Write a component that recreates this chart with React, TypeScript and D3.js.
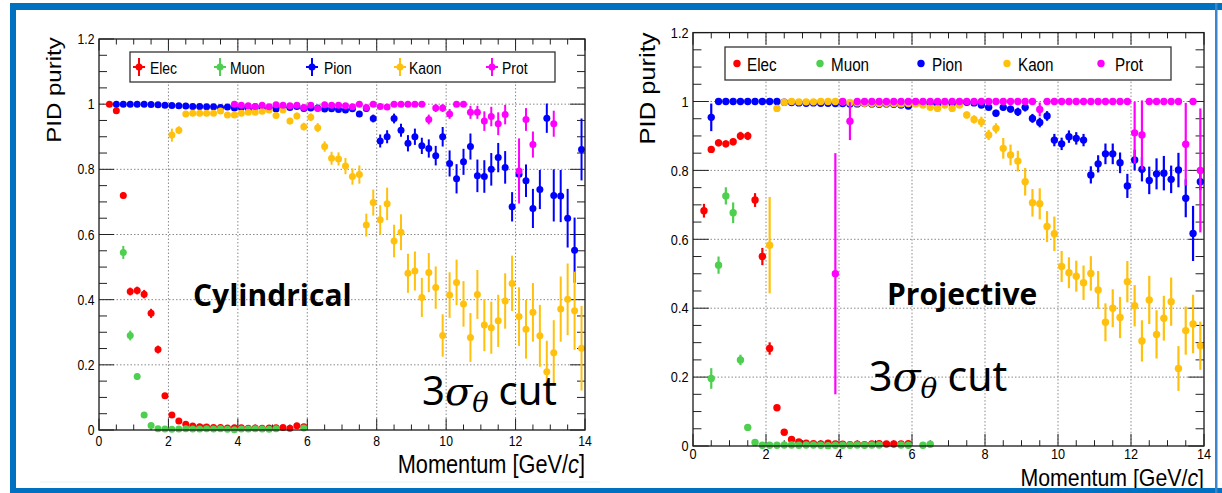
import React from "react";
import * as d3 from "d3";

// [momentum (GeV/c), purity, uncertainty]
type Pt = [number, number, number];

// ---------------- Cylindrical geometry ----------------
const cylElec: Pt[] = [
  [0.3, 1.0, 0.002], [0.5, 0.98, 0.006], [0.7, 0.72, 0.01], [0.9, 0.425, 0.012], [1.1, 0.428, 0.012],
  [1.3, 0.417, 0.013], [1.5, 0.358, 0.014], [1.7, 0.247, 0.012], [1.9, 0.105, 0.008], [2.1, 0.046, 0.006],
  [2.3, 0.028, 0.005], [2.5, 0.018, 0.004], [2.7, 0.012, 0.003], [2.9, 0.01, 0.003], [3.1, 0.009, 0.003],
  [3.3, 0.008, 0.002], [3.5, 0.008, 0.002], [3.7, 0.006, 0.002], [3.9, 0.007, 0.002], [4.1, 0.007, 0.002],
  [4.3, 0.005, 0.002], [4.5, 0.006, 0.002], [4.7, 0.005, 0.002], [4.9, 0.006, 0.002], [5.1, 0.007, 0.002],
  [5.3, 0.008, 0.003], [5.5, 0.005, 0.003], [5.7, 0.013, 0.004], [5.9, 0.01, 0.004],
];
const cylMuon: Pt[] = [
  [0.7, 0.545, 0.02], [0.9, 0.29, 0.015], [1.1, 0.164, 0.01], [1.3, 0.046, 0.006], [1.5, 0.014, 0.004],
  [1.7, 0.004, 0.002], [1.9, 0.003, 0.002], [2.1, 0.002, 0.001], [2.3, 0.003, 0.001], [2.5, 0.004, 0.002],
  [2.7, 0.003, 0.001], [2.9, 0.003, 0.001], [3.1, 0.004, 0.002], [3.3, 0.003, 0.001], [3.5, 0.004, 0.002],
  [3.7, 0.002, 0.001], [3.9, 0.001, 0.001], [4.1, 0.003, 0.001], [4.3, 0.003, 0.001], [4.5, 0.004, 0.002],
  [4.7, 0.003, 0.001], [4.9, 0.002, 0.001], [5.1, 0.004, 0.002], [5.9, 0.006, 0.002],
];
const cylPion: Pt[] = [
  [0.5, 1.0, 0.002], [0.7, 1.0, 0.002], [0.9, 1.0, 0.002], [1.1, 1.0, 0.002], [1.3, 1.0, 0.002],
  [1.5, 0.999, 0.002], [1.7, 0.998, 0.002], [1.9, 0.997, 0.002], [2.1, 0.996, 0.002], [2.3, 0.995, 0.002],
  [2.5, 0.994, 0.002], [2.7, 0.993, 0.002], [2.9, 0.993, 0.002], [3.1, 0.992, 0.002], [3.3, 0.992, 0.002],
  [3.5, 0.99, 0.002], [3.7, 0.991, 0.002], [3.9, 0.988, 0.003], [4.1, 0.99, 0.003], [4.3, 0.985, 0.003],
  [4.5, 0.992, 0.003], [4.7, 0.986, 0.003], [4.9, 0.99, 0.003], [5.1, 0.985, 0.003], [5.3, 0.99, 0.003],
  [5.5, 0.99, 0.003], [5.7, 0.993, 0.003], [5.9, 0.987, 0.004], [6.1, 0.988, 0.004], [6.3, 0.988, 0.004],
  [6.5, 0.985, 0.005], [6.7, 0.986, 0.005], [6.9, 0.984, 0.005], [7.1, 0.982, 0.006], [7.3, 0.986, 0.006],
  [7.5, 0.97, 0.008], [7.7, 0.987, 0.008], [7.9, 0.956, 0.012], [8.1, 0.887, 0.02], [8.3, 0.9, 0.02],
  [8.5, 0.956, 0.015], [8.7, 0.92, 0.02], [8.9, 0.88, 0.025], [9.1, 0.9, 0.025], [9.3, 0.872, 0.025],
  [9.5, 0.864, 0.028], [9.7, 0.842, 0.03], [9.9, 0.9, 0.03], [10.1, 0.818, 0.04], [10.3, 0.771, 0.045],
  [10.5, 0.823, 0.04], [10.7, 0.87, 0.04], [10.9, 0.78, 0.05], [11.1, 0.778, 0.05], [11.3, 0.8, 0.05],
  [11.5, 0.836, 0.045], [11.7, 0.806, 0.05], [11.9, 0.685, 0.045], [12.1, 0.785, 0.05], [12.3, 0.765, 0.05],
  [12.5, 0.68, 0.06], [12.7, 0.738, 0.06], [12.9, 0.957, 0.045], [13.1, 0.72, 0.08], [13.3, 0.718, 0.08],
  [13.5, 0.65, 0.09], [13.7, 0.552, 0.1], [13.9, 0.861, 0.095],
];
const cylKaon: Pt[] = [
  [2.1, 0.905, 0.02], [2.3, 0.92, 0.012], [2.5, 0.97, 0.006], [2.7, 0.972, 0.006], [2.9, 0.972, 0.005],
  [3.1, 0.972, 0.005], [3.3, 0.972, 0.005], [3.5, 0.979, 0.005], [3.7, 0.967, 0.006], [3.9, 0.967, 0.006],
  [4.1, 0.972, 0.006], [4.3, 0.975, 0.006], [4.5, 0.975, 0.006], [4.7, 0.978, 0.007], [4.9, 0.982, 0.007],
  [5.1, 0.965, 0.008], [5.3, 0.982, 0.008], [5.5, 0.948, 0.01], [5.7, 0.964, 0.01], [5.9, 0.931, 0.012],
  [6.1, 0.96, 0.012], [6.3, 0.928, 0.014], [6.5, 0.87, 0.016], [6.7, 0.834, 0.02], [6.9, 0.832, 0.02],
  [7.1, 0.81, 0.025], [7.3, 0.778, 0.025], [7.5, 0.784, 0.028], [7.7, 0.629, 0.035], [7.9, 0.698, 0.04],
  [8.1, 0.645, 0.045], [8.3, 0.694, 0.05], [8.5, 0.58, 0.05], [8.7, 0.607, 0.055], [8.9, 0.481, 0.06],
  [9.1, 0.488, 0.06], [9.3, 0.407, 0.06], [9.5, 0.483, 0.06], [9.7, 0.437, 0.065], [9.9, 0.29, 0.065],
  [10.1, 0.414, 0.07], [10.3, 0.453, 0.07], [10.5, 0.387, 0.07], [10.7, 0.284, 0.075], [10.9, 0.416, 0.075],
  [11.1, 0.322, 0.08], [11.3, 0.314, 0.08], [11.5, 0.335, 0.08], [11.7, 0.396, 0.085], [11.9, 0.45, 0.085],
  [12.1, 0.348, 0.09], [12.3, 0.309, 0.09], [12.5, 0.361, 0.09], [12.7, 0.289, 0.095], [12.9, 0.179, 0.095],
  [13.1, 0.237, 0.1], [13.3, 0.371, 0.1], [13.5, 0.401, 0.11], [13.7, 0.366, 0.12], [13.9, 0.251, 0.13],
];
const cylProt: Pt[] = [
  [3.9, 1.0, 0.003], [4.1, 0.997, 0.003], [4.3, 0.995, 0.003], [4.5, 0.993, 0.003], [4.7, 0.997, 0.003],
  [4.9, 0.992, 0.003], [5.1, 0.998, 0.003], [5.3, 0.997, 0.003], [5.5, 0.995, 0.003], [5.7, 0.997, 0.003],
  [5.9, 0.99, 0.003], [6.1, 0.997, 0.003], [6.3, 0.987, 0.004], [6.5, 0.998, 0.003], [6.7, 0.997, 0.003],
  [6.9, 0.997, 0.003], [7.1, 0.995, 0.004], [7.3, 0.992, 0.004], [7.5, 1.0, 0.003], [7.7, 0.99, 0.004],
  [7.9, 1.0, 0.003], [8.1, 0.993, 0.004], [8.3, 0.991, 0.004], [8.5, 1.0, 0.003], [8.7, 1.0, 0.003],
  [8.9, 1.0, 0.003], [9.1, 1.0, 0.003], [9.3, 1.0, 0.003], [9.5, 0.953, 0.015], [9.7, 0.988, 0.012],
  [9.9, 0.988, 0.012], [10.1, 0.97, 0.015], [10.3, 1.0, 0.004], [10.5, 1.0, 0.004], [10.7, 0.975, 0.02],
  [10.9, 0.975, 0.02], [11.1, 0.948, 0.03], [11.3, 0.962, 0.03], [11.5, 0.94, 0.035], [11.7, 0.968, 0.03],
  [12.1, 0.795, 0.1], [12.3, 0.953, 0.035], [12.5, 0.876, 0.04], [13.1, 0.94, 0.04],
];

// ---------------- Projective geometry ----------------
const projElec: Pt[] = [
  [0.3, 0.683, 0.02], [0.5, 0.861, 0.01], [0.7, 0.88, 0.01], [0.9, 0.877, 0.01], [1.1, 0.883, 0.01],
  [1.3, 0.9, 0.012], [1.5, 0.9, 0.012], [1.7, 0.714, 0.02], [1.9, 0.55, 0.025], [2.1, 0.283, 0.018],
  [2.3, 0.111, 0.008], [2.5, 0.04, 0.005], [2.7, 0.019, 0.004], [2.9, 0.012, 0.003], [3.1, 0.008, 0.002],
  [3.3, 0.007, 0.002], [3.5, 0.006, 0.002], [3.7, 0.008, 0.002], [3.9, 0.006, 0.002], [4.1, 0.005, 0.002],
  [4.3, 0.004, 0.002], [4.5, 0.005, 0.002], [4.7, 0.004, 0.002], [4.9, 0.006, 0.002], [5.1, 0.007, 0.002],
  [5.3, 0.006, 0.002], [5.5, 0.006, 0.002], [5.7, 0.006, 0.002], [5.9, 0.007, 0.002],
];
const projMuon: Pt[] = [
  [0.5, 0.196, 0.03], [0.7, 0.525, 0.025], [0.9, 0.726, 0.025], [1.1, 0.677, 0.03], [1.3, 0.25, 0.015],
  [1.5, 0.054, 0.008], [1.7, 0.01, 0.003], [1.9, 0.002, 0.001], [2.1, 0.002, 0.001], [2.3, 0.002, 0.001],
  [2.5, 0.003, 0.001], [2.7, 0.003, 0.001], [2.9, 0.002, 0.001], [3.1, 0.003, 0.001], [3.3, 0.003, 0.001],
  [3.5, 0.002, 0.001], [3.7, 0.001, 0.001], [3.9, 0.002, 0.001], [4.1, 0.002, 0.001], [4.3, 0.002, 0.001],
  [4.5, 0.003, 0.001], [4.7, 0.002, 0.001], [4.9, 0.003, 0.001], [5.1, 0.003, 0.001], [5.7, 0.003, 0.001],
  [5.9, 0.002, 0.001], [6.3, 0.002, 0.001], [6.5, 0.005, 0.002],
];
const projPion: Pt[] = [
  [0.5, 0.954, 0.04], [0.7, 1.0, 0.002], [0.9, 1.0, 0.002], [1.1, 1.0, 0.002], [1.3, 1.0, 0.002],
  [1.5, 1.0, 0.002], [1.7, 1.0, 0.002], [1.9, 1.0, 0.002], [2.1, 1.0, 0.002], [2.3, 1.0, 0.002],
  [2.5, 0.998, 0.002], [2.7, 0.997, 0.002], [2.9, 0.996, 0.002], [3.1, 0.995, 0.002], [3.3, 0.996, 0.002],
  [3.5, 0.995, 0.002], [3.7, 0.995, 0.002], [3.9, 0.994, 0.002], [4.1, 0.994, 0.002], [4.3, 0.993, 0.002],
  [4.5, 0.993, 0.002], [4.7, 0.994, 0.002], [4.9, 0.993, 0.002], [5.1, 0.992, 0.002], [5.3, 0.993, 0.002],
  [5.5, 0.992, 0.002], [5.7, 0.99, 0.003], [5.9, 0.987, 0.003], [6.1, 0.996, 0.003], [6.3, 0.995, 0.003],
  [6.5, 0.995, 0.003], [6.7, 0.994, 0.003], [6.9, 0.995, 0.003], [7.1, 0.994, 0.003], [7.3, 0.993, 0.003],
  [7.5, 0.998, 0.003], [7.7, 0.996, 0.004], [7.9, 0.99, 0.005], [8.1, 0.983, 0.008], [8.3, 0.966, 0.01],
  [8.5, 0.983, 0.01], [8.7, 0.978, 0.01], [8.9, 0.97, 0.012], [9.1, 0.983, 0.012], [9.3, 0.951, 0.013],
  [9.5, 0.939, 0.014], [9.7, 0.958, 0.014], [9.9, 0.888, 0.018], [10.1, 0.877, 0.018], [10.3, 0.898, 0.018],
  [10.5, 0.893, 0.018], [10.7, 0.888, 0.018], [10.9, 0.787, 0.025], [11.1, 0.819, 0.025], [11.3, 0.848, 0.03],
  [11.5, 0.848, 0.03], [11.7, 0.822, 0.03], [11.9, 0.755, 0.035], [12.1, 0.83, 0.03], [12.3, 0.803, 0.035],
  [12.5, 0.771, 0.04], [12.7, 0.79, 0.045], [12.9, 0.792, 0.05], [13.1, 0.774, 0.04], [13.3, 0.801, 0.05],
  [13.5, 0.719, 0.055], [13.7, 0.617, 0.08], [13.9, 0.767, 0.025],
];
const projKaon: Pt[] = [
  [2.1, 0.583, 0.14], [2.3, 0.98, 0.01], [2.5, 0.998, 0.003], [2.7, 1.0, 0.002], [2.9, 0.999, 0.002],
  [3.1, 0.999, 0.002], [3.3, 0.999, 0.002], [3.5, 1.0, 0.002], [3.7, 1.0, 0.002], [3.9, 1.0, 0.002],
  [4.1, 0.999, 0.002], [4.3, 0.997, 0.002], [4.5, 0.996, 0.002], [4.7, 0.995, 0.002], [4.9, 0.995, 0.002],
  [5.1, 0.994, 0.002], [5.3, 0.995, 0.002], [5.5, 0.994, 0.002], [5.7, 0.993, 0.003], [5.9, 0.994, 0.003],
  [6.1, 0.993, 0.003], [6.3, 0.99, 0.004], [6.5, 0.983, 0.005], [6.7, 0.98, 0.005], [6.9, 0.99, 0.005],
  [7.1, 0.98, 0.006], [7.3, 0.99, 0.006], [7.5, 0.961, 0.01], [7.7, 0.948, 0.012], [7.9, 0.941, 0.015],
  [8.1, 0.903, 0.015], [8.3, 0.922, 0.015], [8.5, 0.864, 0.03], [8.7, 0.845, 0.03], [8.9, 0.827, 0.03],
  [9.1, 0.767, 0.04], [9.3, 0.706, 0.04], [9.5, 0.703, 0.045], [9.7, 0.637, 0.045], [9.9, 0.616, 0.05],
  [10.1, 0.521, 0.045], [10.3, 0.503, 0.045], [10.5, 0.493, 0.045], [10.7, 0.474, 0.05], [10.9, 0.501, 0.05],
  [11.1, 0.453, 0.055], [11.3, 0.359, 0.055], [11.5, 0.4, 0.055], [11.7, 0.373, 0.06], [11.9, 0.477, 0.06],
  [12.1, 0.407, 0.06], [12.3, 0.305, 0.06], [12.5, 0.424, 0.07], [12.7, 0.324, 0.07], [12.9, 0.371, 0.065],
  [13.1, 0.419, 0.07], [13.3, 0.225, 0.065], [13.5, 0.335, 0.07], [13.7, 0.354, 0.085], [13.9, 0.291, 0.07],
];
const projProt: Pt[] = [
  [3.9, 0.5, 0.35], [4.1, 1.0, 0.002], [4.3, 0.943, 0.055], [4.5, 1.0, 0.002], [4.7, 1.0, 0.002],
  [4.9, 1.0, 0.002], [5.1, 1.0, 0.002], [5.3, 1.0, 0.002], [5.5, 1.0, 0.002], [5.7, 1.0, 0.002],
  [5.9, 1.0, 0.002], [6.1, 1.0, 0.002], [6.3, 1.0, 0.002], [6.5, 1.0, 0.002], [6.7, 1.0, 0.002],
  [6.9, 1.0, 0.002], [7.1, 1.0, 0.002], [7.3, 1.0, 0.002], [7.5, 1.0, 0.002], [7.7, 1.0, 0.002],
  [7.9, 1.0, 0.002], [8.1, 1.0, 0.002], [8.3, 1.0, 0.002], [8.5, 1.0, 0.002], [8.7, 1.0, 0.002],
  [8.9, 1.0, 0.002], [9.1, 1.0, 0.002], [9.3, 1.0, 0.002], [9.5, 0.977, 0.02], [9.7, 1.0, 0.002],
  [9.9, 1.0, 0.002], [10.1, 1.0, 0.002], [10.3, 1.0, 0.002], [10.5, 1.0, 0.002], [10.7, 1.0, 0.002],
  [10.9, 1.0, 0.002], [11.1, 1.0, 0.002], [11.3, 1.0, 0.002], [11.5, 1.0, 0.002], [11.7, 1.0, 0.002],
  [11.9, 1.0, 0.002], [12.1, 0.909, 0.09], [12.3, 0.903, 0.1], [12.5, 1.0, 0.002], [12.7, 1.0, 0.002],
  [12.9, 1.0, 0.002], [13.1, 1.0, 0.002], [13.3, 1.0, 0.002], [13.5, 0.876, 0.12], [13.7, 1.0, 0.002],
  [13.9, 0.8, 0.18],
];

const species = ["Elec", "Muon", "Pion", "Kaon", "Prot"];
const speciesColor = ["#ff0000", "#4fcf4f", "#0000ff", "#ffc10e", "#ff00ff"];
const xTickValues = [0, 2, 4, 6, 8, 10, 12, 14];
const yTickValues = [0, 0.2, 0.4, 0.6, 0.8, 1, 1.2];
const yTickText = ["0", "0.2", "0.4", "0.6", "0.8", "1", "1.2"];

const ROOT_FONT = "'Liberation Sans', Arial, Helvetica, sans-serif";
const SQ = 0.87; // horizontal squeeze of the ROOT canvas text

type PanelCfg = {
  left: number; right: number; top: number; bottom: number;
  s: number; markerR: number; errW: number;
  tickFont: number; xLabelDy: number;
  titleFont: number; titleY: number;
  yTitleX: number; yTitleY: number; yTitleFont: number;
  legend: { x: number; y: number; w: number; h: number; markX: number[]; textX: number[]; textY: number; font: number; cross: boolean };
  name: string; nameX: number; nameY: number;
  cutX: number; cutY: number; cutFont: number;
};

const cylCfg: PanelCfg = {
  left: 99, right: 585, top: 39, bottom: 430, s: 1, markerR: 3.5, errW: 2,
  tickFont: 14, xLabelDy: 16, titleFont: 25, titleY: 473,
  yTitleX: 61, yTitleY: 90, yTitleFont: 24,
  legend: { x: 130, y: 52, w: 425, h: 30, markX: [139, 220, 312, 400, 492], textX: [150, 230, 324, 409, 502], textY: 74, font: 16, cross: true },
  name: "Cylindrical", nameX: 193, nameY: 306,
  cutX: 422, cutY: 405, cutFont: 40,
};

const projCfg: PanelCfg = {
  left: 693, right: 1204, top: 32.6, bottom: 446, s: 1.055, markerR: 3.7, errW: 2.2,
  tickFont: 14.6, xLabelDy: 13, titleFont: 24.5, titleY: 485.5,
  yTitleX: 655, yTitleY: 88.5, yTitleFont: 25.5,
  legend: { x: 725, y: 47, w: 446, h: 33, markX: [737, 820, 921, 1007, 1101], textX: [747, 831, 932, 1018, 1115], textY: 71, font: 17.5, cross: false },
  name: "Projective", nameX: 887, nameY: 305,
  cutX: 869, cutY: 391, cutFont: 41,
};

function SqText(props: { x: number; y: number; size: number; anchor?: string; children: React.ReactNode }) {
  const { x, y, size, anchor, children } = props;
  return (
    <text transform={`translate(${x},${y}) scale(${SQ},1)`} textAnchor={anchor || "start"} fontSize={size} fontFamily={ROOT_FONT} fill="#000">
      {children}
    </text>
  );
}

function Panel({ cfg, series }: { cfg: PanelCfg; series: Pt[][] }) {
  const x = d3.scaleLinear().domain([0, 14]).range([cfg.left, cfg.right]);
  const y = d3.scaleLinear().domain([0, 1.2]).range([cfg.bottom, cfg.top]);
  const xMinor = d3.range(0, 14.001, 0.5).filter((v) => Math.abs(v / 2 - Math.round(v / 2)) > 1e-6);
  const yMinor = d3.range(0, 1.2001, 0.05).filter((v) => Math.abs(v / 0.2 - Math.round(v / 0.2)) > 1e-6);
  const s = cfg.s;
  const xMaj = 11.5 * s, xMin = 5.5 * s, yMaj = 15 * s, yMin = 8 * s;
  const lg = cfg.legend;

  return (
    <g>
      {/* grid */}
      <g stroke="#8a8a8a" strokeWidth={1} strokeDasharray="1.5,2">
        {xTickValues.slice(1, -1).map((v) => (
          <line key={"gx" + v} x1={x(v)} x2={x(v)} y1={cfg.top} y2={cfg.bottom} />
        ))}
        {yTickValues.slice(1, -1).map((v) => (
          <line key={"gy" + v} x1={cfg.left} x2={cfg.right} y1={y(v)} y2={y(v)} />
        ))}
      </g>

      {/* ticks on all four sides */}
      <g stroke="#222" strokeWidth={1}>
        {xTickValues.map((v) => (
          <g key={"tx" + v}>
            <line x1={x(v)} x2={x(v)} y1={cfg.bottom} y2={cfg.bottom - xMaj} />
            <line x1={x(v)} x2={x(v)} y1={cfg.top} y2={cfg.top + xMaj} />
          </g>
        ))}
        {xMinor.map((v) => (
          <g key={"mx" + v}>
            <line x1={x(v)} x2={x(v)} y1={cfg.bottom} y2={cfg.bottom - xMin} />
            <line x1={x(v)} x2={x(v)} y1={cfg.top} y2={cfg.top + xMin} />
          </g>
        ))}
        {yTickValues.map((v) => (
          <g key={"ty" + v}>
            <line x1={cfg.left} x2={cfg.left + yMaj} y1={y(v)} y2={y(v)} />
            <line x1={cfg.right} x2={cfg.right - yMaj} y1={y(v)} y2={y(v)} />
          </g>
        ))}
        {yMinor.map((v) => (
          <g key={"my" + v}>
            <line x1={cfg.left} x2={cfg.left + yMin} y1={y(v)} y2={y(v)} />
            <line x1={cfg.right} x2={cfg.right - yMin} y1={y(v)} y2={y(v)} />
          </g>
        ))}
      </g>

      {/* data: error bars then markers, species in legend order */}
      {series.map((pts, i) => (
        <g key={species[i]}>
          <g stroke={speciesColor[i]} strokeWidth={cfg.errW}>
            {pts.map((p) => (
              <line key={"e" + p[0]} x1={x(p[0])} x2={x(p[0])} y1={y(Math.max(0, p[1] - p[2]))} y2={y(Math.min(1.2, p[1] + p[2]))} />
            ))}
          </g>
          <g fill={speciesColor[i]}>
            {pts.map((p) => (
              <circle key={"m" + p[0]} cx={x(p[0])} cy={y(p[1])} r={cfg.markerR} />
            ))}
          </g>
        </g>
      ))}

      {/* frame */}
      <rect x={cfg.left} y={cfg.top} width={cfg.right - cfg.left} height={cfg.bottom - cfg.top} fill="none" stroke="#1a1a1a" strokeWidth={1.3} />

      {/* legend */}
      <rect x={lg.x} y={lg.y} width={lg.w} height={lg.h} fill="#fff" stroke="#333" strokeWidth={1.3} />
      {species.map((name, i) => (
        <g key={"lg" + name}>
          {lg.cross && (
            <g stroke={speciesColor[i]} strokeWidth={2}>
              <line x1={lg.markX[i] - 6} x2={lg.markX[i] + 6} y1={lg.y + lg.h / 2} y2={lg.y + lg.h / 2} />
              <line x1={lg.markX[i]} x2={lg.markX[i]} y1={lg.y + lg.h / 2 - 9} y2={lg.y + lg.h / 2 + 9} />
            </g>
          )}
          <circle cx={lg.markX[i]} cy={lg.y + lg.h / 2} r={cfg.markerR} fill={speciesColor[i]} />
          <SqText x={lg.textX[i]} y={lg.textY} size={lg.font}>{name}</SqText>
        </g>
      ))}

      {/* tick labels */}
      {xTickValues.map((v) => (
        <SqText key={"lx" + v} x={x(v)} y={cfg.bottom + cfg.xLabelDy} size={cfg.tickFont} anchor="middle">{String(v)}</SqText>
      ))}
      {yTickValues.map((v, i) => (
        <SqText key={"ly" + v} x={cfg.left - 4.5} y={y(v) + cfg.tickFont * 0.36} size={cfg.tickFont} anchor="end">{yTickText[i]}</SqText>
      ))}

      {/* axis titles */}
      <text
        transform={`translate(${cfg.yTitleX},${cfg.yTitleY}) scale(${SQ},1) rotate(-90)`}
        textAnchor="middle" fontSize={cfg.yTitleFont} fontFamily={ROOT_FONT} fill="#000"
      >
        PID purity
      </text>
      <SqText x={cfg.right} y={cfg.titleY} size={cfg.titleFont} anchor="end">
        Momentum [GeV/<tspan fontStyle="italic">c</tspan>]
      </SqText>

      {/* annotations */}
      <text x={cfg.nameX} y={cfg.nameY} fontSize={30} fontWeight={700} fontFamily="'Open Sans', Lato, sans-serif" fill="#000">
        {cfg.name}
      </text>
      <text x={cfg.cutX} y={cfg.cutY} fontSize={cfg.cutFont} fill="#000" fontFamily="'Noto Sans', sans-serif">
        <tspan>3</tspan>
        <tspan fontFamily="'DejaVu Serif', serif" fontStyle="italic">σ</tspan>
        <tspan fontFamily="'DejaVu Serif', serif" fontStyle="italic" fontSize={cfg.cutFont * 0.68} dy={7}>θ</tspan>
        <tspan dy={-7} dx={cfg.cutFont * 0.25}>cut</tspan>
      </text>
    </g>
  );
}

export default function App() {
  return (
    <div style={{ position: "fixed", left: 0, top: 0, width: 1222, height: 493, background: "#fff" }}>
      <svg width={1222} height={493} style={{ display: "block" }}>
        <rect width={1222} height={493} fill="#fff" />
        <Panel cfg={cylCfg} series={[cylElec, cylMuon, cylPion, cylKaon, cylProt]} />
        <Panel cfg={projCfg} series={[projElec, projMuon, projPion, projKaon, projProt]} />
        {/* slide frame */}
        <line x1={40} x2={600} y1={482} y2={482} stroke="#e3f3f9" strokeWidth={1} />
        <rect x={10} y={3} width={1212} height={7} fill="#0070c0" />
        <rect x={10} y={3} width={6} height={490} fill="#0070c0" />
        <rect x={10} y={488} width={1212} height={5} fill="#0070c0" />
        <rect x={1215} y={3} width={2.5} height={490} fill="#3a86cc" />
      </svg>
    </div>
  );
}
